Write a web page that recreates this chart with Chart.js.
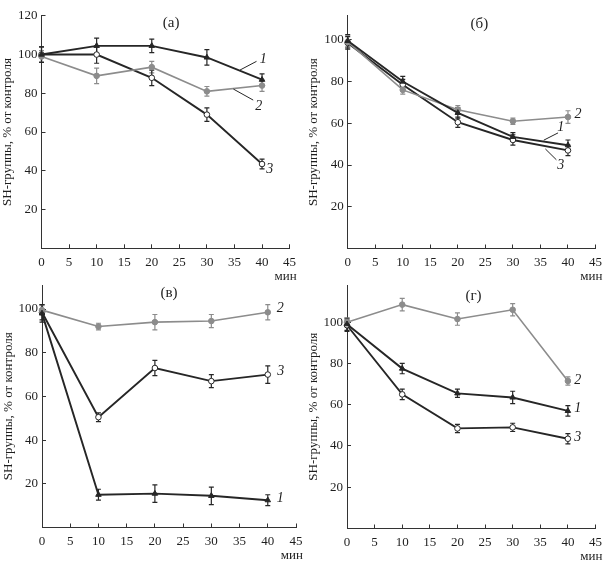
<!DOCTYPE html>
<html>
<head>
<meta charset="utf-8">
<script src="https://cdn.jsdelivr.net/npm/chart.js@4/dist/chart.umd.min.js"></script>
<style>
  html, body { margin: 0; padding: 0; background: #fff; }
  #wrap { position: relative; width: 612px; height: 561px; }
  #wrap canvas { position: absolute; left: 0; top: 0; }
</style>
</head>
<body>
<div id="wrap">
  <canvas id="pa" width="612" height="561"></canvas>
  <canvas id="pb" width="612" height="561"></canvas>
  <canvas id="pc" width="612" height="561"></canvas>
  <canvas id="pd" width="612" height="561"></canvas>
</div>
<script>
// time points, min
const minutes = [0, 10, 20, 30, 40];
const xTickValues = [0, 5, 10, 15, 20, 25, 30, 35, 40, 45];
const yTickValues = [20, 40, 60, 80, 100, 120];
const panelNames = ['(а)', '(б)', '(в)', '(г)'];
const seriesNames = ['1', '2', '3'];
const yTitle = 'SH-группы, % от контроля';
const xTitle = 'мин';

// (а)
const a1 = [100, 104.5, 104.5, 98.5, 87];
const a1err = [4, 4, 3.5, 4, 3];
const a2 = [99, 89, 93.5, 81, 84];
const a2err = [3, 4, 3, 2.5, 3];
const a3 = [100, 100, 88, 69, 43.5];
const a3err = [4, 4.5, 4, 3.5, 2.5];

// (б)
const b1 = [99.5, 80, 65, 53.5, 49.5];
const b1err = [3, 2.5, 2.5, 2, 2.5];
const b2 = [99, 76, 66.5, 61, 63];
const b2err = [3, 2, 2, 1.5, 3];
const b3 = [98.5, 78.5, 60.5, 52, 47];
const b3err = [3, 2.5, 2.5, 2.5, 2.5];

// (в)
const c1 = [98, 15, 15.5, 14.5, 12.5];
const c1err = [4, 2.5, 4, 4, 2.5];
const c2 = [99.5, 92, 94, 94.5, 98.5];
const c2err = [2, 1.5, 3.5, 3, 3.5];
const c3 = [98.5, 50.5, 73, 67, 70];
const c3err = [3.5, 2, 3.5, 3, 4];

// (г)
const d1 = [99, 77.5, 65.5, 63.5, 57];
const d1err = [3, 2.5, 2, 3, 2.5];
const d2 = [100, 108.5, 101.5, 106, 71.5];
const d2err = [2, 3, 3, 3, 2];
const d3 = [98.5, 65, 48.5, 49, 43.5];
const d3err = [3, 2.5, 2, 2, 2.5];

const DARK = '#262626';
const GRAY = '#8c8c8c';
const TEXT = '#1e1e1e';
const FONT = '"Liberation Serif", "DejaVu Serif", serif';

// where each plot area sits on the page, and label spots in data units
const panels = [
  { id: 'pa', area: [41.5, 7.3, 289.6, 248.3], yMax: 120,
    series: [[a1, a1err], [a2, a2err], [a3, a3err]],
    title: [23.5, 116],
    labels: [[40.2, 97.5], [39.4, 73.5], [41.4, 41]],
    leaders: [[36, 92, 39, 96.5], [34.8, 82.2, 38.4, 76.5]] },
  { id: 'pb', area: [347.7, 6.7, 598.9, 248.5], yMax: 111.5,
    series: [[b1, b1err], [b2, b2err], [b3, b3err]],
    title: [23.9, 107.5],
    labels: [[38.7, 58.3], [41.8, 64.2], [38.7, 40]],
    leaders: [[35.6, 51.9, 38.2, 55.4], [35.9, 47.7, 37.9, 42.5]] },
  { id: 'pc', area: [42, 285, 296, 527.5], yMax: 111,
    series: [[c1, c1err], [c2, c2err], [c3, c3err]],
    title: [22.5, 107.5],
    labels: [[42.2, 13.4], [42.2, 100.5], [42.3, 71.4]],
    leaders: [] },
  { id: 'pd', area: [347, 285, 606, 528.5], yMax: 118,
    series: [[d1, d1err], [d2, d2err], [d3, d3err]],
    title: [22.9, 112.8],
    labels: [[41.8, 58.1], [41.8, 71.7], [41.8, 44.3]],
    leaders: [] }
];

const Y_AXIS_W = 41.5;
const X_AXIS_H = 30;

const overlay = {
  id: 'overlay',
  beforeDatasetsDraw(chart) {
    const ctx = chart.ctx;
    const ys = chart.scales.y;
    chart.data.datasets.forEach((ds, i) => {
      const meta = chart.getDatasetMeta(i);
      ctx.save();
      ctx.strokeStyle = ds.borderColor;
      ctx.lineWidth = 1.2;
      meta.data.forEach((pt, j) => {
        const v = ds.data[j].y, e = ds.errors[j];
        const top = ys.getPixelForValue(v + e);
        const bot = ys.getPixelForValue(v - e);
        ctx.beginPath();
        ctx.moveTo(pt.x, top); ctx.lineTo(pt.x, bot);
        ctx.moveTo(pt.x - 2.5, top); ctx.lineTo(pt.x + 2.5, top);
        ctx.moveTo(pt.x - 2.5, bot); ctx.lineTo(pt.x + 2.5, bot);
        ctx.stroke();
      });
      ctx.restore();
    });
  },
  afterDraw(chart) {
    const p = chart.options.plugins.overlay;
    const ctx = chart.ctx;
    const xs = chart.scales.x, ys = chart.scales.y;
    const X = v => xs.getPixelForValue(v), Y = v => ys.getPixelForValue(v);
    ctx.save();
    ctx.fillStyle = TEXT;
    ctx.textBaseline = 'middle';
    ctx.textAlign = 'center';
    ctx.font = '15px ' + FONT;
    ctx.fillText(p.name, X(p.title[0]), Y(p.title[1]));
    ctx.font = '13px ' + FONT;
    ctx.textAlign = 'right';
    ctx.fillText(xTitle, chart.chartArea.right + 7, chart.chartArea.bottom + 28);
    ctx.textAlign = 'center';
    ctx.font = 'italic 14px ' + FONT;
    p.labels.forEach((l, k) => ctx.fillText(seriesNames[k], X(l[0]), Y(l[1])));
    ctx.strokeStyle = DARK;
    ctx.lineWidth = 1;
    p.leaders.forEach(l => {
      ctx.beginPath();
      ctx.moveTo(X(l[0]), Y(l[1]));
      ctx.lineTo(X(l[2]), Y(l[3]));
      ctx.stroke();
    });
    ctx.restore();
  }
};

Chart.defaults.font.family = FONT;
Chart.defaults.font.size = 13;
Chart.defaults.color = TEXT;

const styles = [
  { color: DARK, fill: DARK, shape: 'triangle', r: 3.2, w: 1.9 },
  { color: GRAY, fill: GRAY, shape: 'circle', r: 2.8, w: 1.6 },
  { color: DARK, fill: '#ffffff', shape: 'circle', r: 2.8, w: 1.9 }
];

panels.forEach((pn, n) => {
  const [l, t, r, b] = pn.area;
  const datasets = pn.series.map((s, k) => ({
    label: seriesNames[k],
    data: minutes.map((m, j) => ({ x: m, y: s[0][j] })),
    errors: s[1],
    borderColor: styles[k].color,
    backgroundColor: styles[k].fill,
    pointBorderColor: styles[k].color,
    pointBackgroundColor: styles[k].fill,
    pointStyle: styles[k].shape,
    pointRadius: styles[k].r,
    pointBorderWidth: 1,
    borderWidth: styles[k].w,
    tension: 0,
    clip: false
  }));

  const axisGrid = { drawOnChartArea: false, drawTicks: true, tickLength: -4, color: '#333', lineWidth: 1 };
  const axisBorder = { display: true, color: '#333', width: 1 };

  new Chart(document.getElementById(pn.id), {
    type: 'line',
    data: { datasets },
    options: {
      responsive: false,
      animation: false,
      events: [],
      layout: { padding: { left: l - Y_AXIS_W, top: t, right: 612 - r, bottom: 561 - b - X_AXIS_H } },
      scales: {
        x: {
          type: 'linear', min: 0, max: 45,
          grid: axisGrid, border: axisBorder,
          ticks: { padding: 10, maxRotation: 0, autoSkip: false },
          afterBuildTicks: sc => { sc.ticks = xTickValues.map(v => ({ value: v })); },
          afterFit: sc => { sc.height = X_AXIS_H; }
        },
        y: {
          type: 'linear', min: 0, max: pn.yMax,
          grid: axisGrid, border: axisBorder,
          ticks: { padding: 8 },
          title: { display: true, text: yTitle, padding: 0, font: { size: 13 } },
          afterBuildTicks: sc => { sc.ticks = yTickValues.filter(v => v <= sc.max).map(v => ({ value: v })); },
          afterFit: sc => { sc.width = Y_AXIS_W; }
        }
      },
      plugins: {
        legend: { display: false },
        tooltip: { enabled: false },
        overlay: { name: panelNames[n], title: pn.title, labels: pn.labels, leaders: pn.leaders }
      }
    },
    plugins: [overlay]
  });
});
</script>
</body>
</html>
